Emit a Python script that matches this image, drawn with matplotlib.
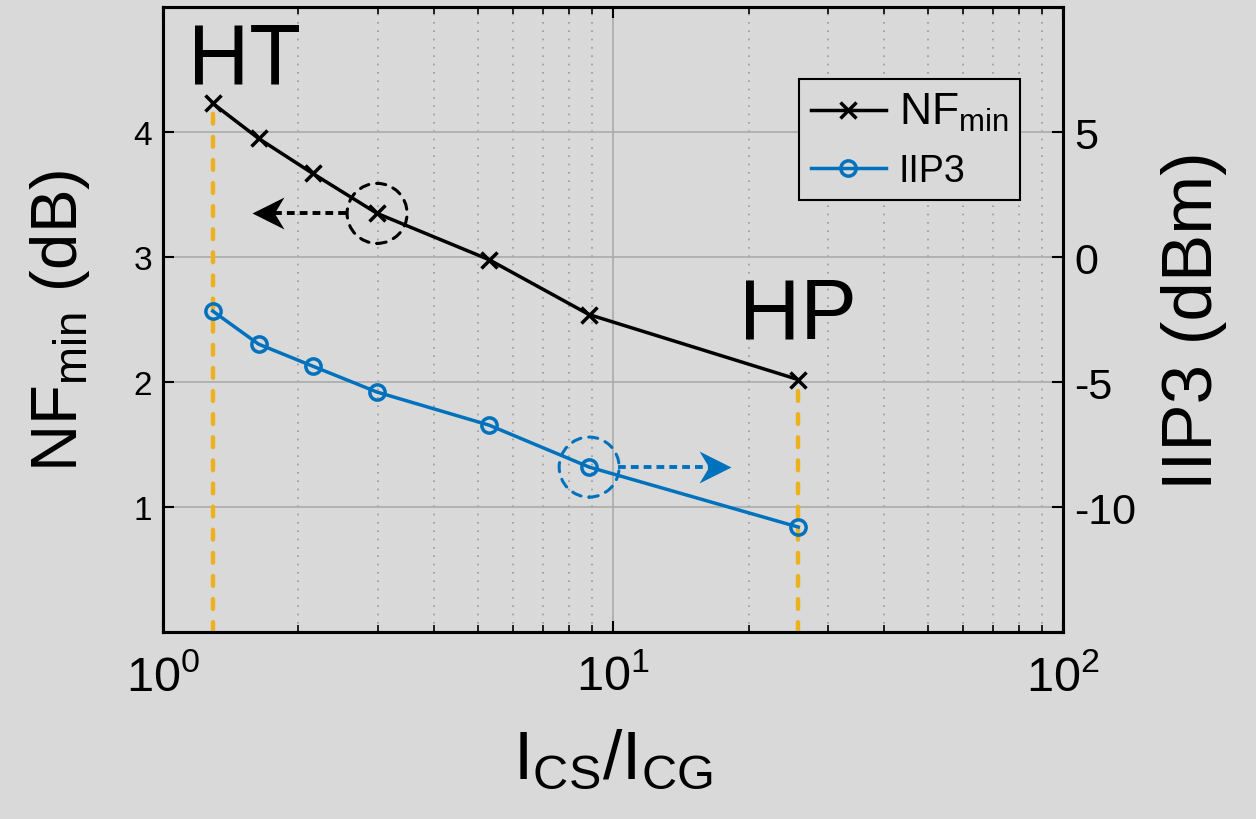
import matplotlib
matplotlib.use('Agg')
import matplotlib.pyplot as plt
from matplotlib.patches import Circle
from matplotlib.transforms import ScaledTranslation
from matplotlib.path import Path

plt.rcParams['font.family'] = ['Liberation Sans', 'DejaVu Sans']
plt.rcParams['mathtext.fontset'] = 'custom'
plt.rcParams['mathtext.rm'] = 'Liberation Sans'
plt.rcParams['mathtext.it'] = 'Liberation Sans'
plt.rcParams['mathtext.bf'] = 'Liberation Sans'

# data
ratio = [1.29, 1.63, 2.15, 2.99, 5.30, 8.85, 25.8]
nf_min = [4.23, 3.95, 3.67, 3.35, 2.98, 2.54, 2.02]
iip3 = [-2.16, -3.48, -4.36, -5.40, -6.72, -8.40, -10.80]
nf_ticks = [1, 2, 3, 4]
iip3_ticks = [-10, -5, 0, 5]
x_ticks = [1, 10, 100]
x_ticklabels = ['$10^{0}$', '$10^{1}$', '$10^{2}$']

bg = '#d9d9d9'
black = '#000000'
blue = '#0072bd'
orange = '#edb120'

fig = plt.figure(figsize=(12.56, 8.2), dpi=100, facecolor=bg)
ax = fig.add_axes([0.1298, 0.228, 0.7166, 0.762])
ax.set_facecolor(bg)
ax2 = ax.twinx()

l1, = ax.plot(ratio, nf_min, '-x', color=black, lw=2.5, ms=11, mew=2.5,
              label='NF$_{\\rm min}$', zorder=3)
# orange dashed drop lines at the HT / HP points
for i in (0, -1):
    ax.plot([ratio[i], ratio[i]], [0, nf_min[i]], color=orange, lw=3.2,
            dashes=(2.2, 3.0), dash_capstyle='round', zorder=4)

l2, = ax2.plot(ratio, iip3, '-o', color=blue, lw=2.5, ms=11, mew=2.5,
               mfc='none', label='IIP3', zorder=3)

ax.set_xscale('log')
ax.set_xticks(x_ticks)
ax.set_xticklabels(x_ticklabels)
ax.set_yticks(nf_ticks)
ax2.set_yticks(iip3_ticks)
ax2.set_yticklabels([str(v) for v in iip3_ticks])

ax.grid(True, which='major', color='#ababab', lw=1.2, ls='-')
ax.grid(True, which='minor', axis='x', color='#9a9a9a', lw=1.2, ls=(0, (1, 4)))
ax.set_axisbelow(True)

ax.tick_params(axis='both', which='major', direction='in', length=8, width=1.5,
               top=True, labelsize=24, pad=8)
ax.tick_params(axis='x', which='major', labelsize=35, pad=16)
ax.tick_params(axis='x', which='minor', direction='in', length=5, width=1.2, top=True)
ax.tick_params(axis='y', which='both', right=False)
ax2.tick_params(axis='y', direction='in', length=8, width=1.5, labelsize=31, pad=8)
for a in (ax, ax2):
    for s in a.spines.values():
        s.set_linewidth(2.2)
        s.set_color(black)

ax.set_ylabel('NF$_{\\rm min}$ (dB)', fontsize=47, labelpad=30)
ax2.set_ylabel('IIP3 (dBm)', fontsize=51, labelpad=18)
ax.set_xlabel('I$_{\\rm CS}$/I$_{\\rm CG}$', fontsize=50, labelpad=20)

# HT / HP labels
ax.annotate('HT', xy=(ratio[0], nf_min[0]), xytext=(23, 15), textcoords='offset points',
            fontsize=61, ha='center', va='baseline')
ax.annotate('HP', xy=(ratio[-1], nf_min[-1]), xytext=(0, 30), textcoords='offset points',
            fontsize=61, ha='center', va='baseline')

# dashed circles with arrows pointing to each axis
head = Path([(0, 0), (-1, 0.5), (-0.7, 0), (-1, -0.5), (0, 0)],
            [Path.MOVETO, Path.LINETO, Path.LINETO, Path.LINETO, Path.CLOSEPOLY])
head_left = Path([(0, 0), (1, 0.5), (0.7, 0), (1, -0.5), (0, 0)],
                 [Path.MOVETO, Path.LINETO, Path.LINETO, Path.LINETO, Path.CLOSEPOLY])


def mark(a, x, y, color, direction):
    t = fig.dpi_scale_trans + ScaledTranslation(x, y, a.transData)
    a.add_patch(Circle((0, 0), 0.30, transform=t, fill=False, ec=color, lw=2.2,
                       ls=(0, (3, 2.6)), capstyle='round', zorder=5))
    if direction < 0:
        a.plot([-0.31, -1.02], [0, 0], ls=(0, (2, 1.3)), color=color, lw=2.8,
                transform=t, zorder=5)
        a.plot([-1.25], [0], marker=head_left, ms=46, color=color, transform=t,
               zorder=5, mew=0)
    else:
        a.plot([0.29, 1.20], [0, 0], ls=(0, (2, 1.3)), color=color, lw=2.8,
               transform=t, zorder=5)
        a.plot([1.42], [0], marker=head, ms=46, color=color, transform=t,
               zorder=5, mew=0)


mark(ax, ratio[3], nf_min[3], black, -1)
mark(ax2, ratio[5], iip3[5], blue, 1)

ax.set_xlim(1, 100)
ax.set_ylim(0, 5)
ax2.set_ylim(-15, 10)

leg = ax2.legend(handles=[l1, l2], loc='upper right', bbox_to_anchor=(0.952, 0.885),
                 fontsize=27, frameon=True, fancybox=False, edgecolor=black,
                 facecolor=bg, framealpha=1, handlelength=2.0, borderpad=0.3,
                 labelspacing=0.55, handletextpad=0.35, borderaxespad=0)
leg.get_frame().set_linewidth(1.5)
leg.get_texts()[0].set_fontsize(32)

fig.savefig('out.png', dpi=100, facecolor=bg)
